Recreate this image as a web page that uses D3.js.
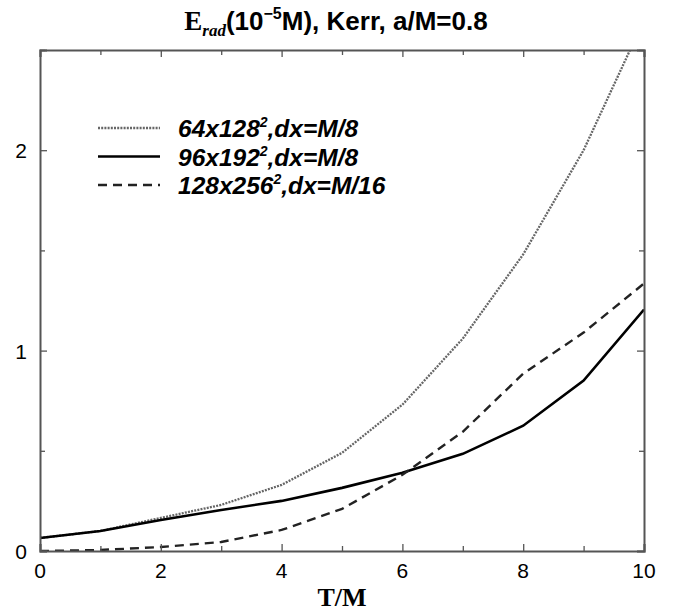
<!DOCTYPE html>
<html>
<head>
<meta charset="utf-8">
<script src="https://cdn.jsdelivr.net/npm/d3@7"></script>
<style>
  body { margin: 0; background: #fff; }
  svg { display: block; }
</style>
</head>
<body>
<script>
// T/M sample points and E_rad values (units of 1e-5 M)
const times = [0, 1, 2, 3, 4, 5, 6, 7, 8, 9, 10];
const coarse = [0.065, 0.1, 0.165, 0.23, 0.33, 0.49, 0.73, 1.06, 1.48, 2.0, 2.65];
const medium = [0.065, 0.1, 0.155, 0.205, 0.25, 0.315, 0.39, 0.485, 0.625, 0.85, 1.205];
const fine = [0.0, 0.005, 0.02, 0.045, 0.105, 0.21, 0.38, 0.595, 0.885, 1.09, 1.335];
const xTicks = [0, 2, 4, 6, 8, 10];
const yTicks = [0, 1, 2];

const width = 679, height = 612;
const margin = {top: 50, right: 35, bottom: 61, left: 40};

const svg = d3.select("body").append("svg")
    .attr("width", width)
    .attr("height", height);

const x = d3.scaleLinear().domain([0, 10]).range([margin.left, width - margin.right]);
const y = d3.scaleLinear().domain([0, 2.5]).range([height - margin.bottom, margin.top]);

const series = [
  {name: "64x128", sup: "2", tail: ",dx=M/8", values: coarse, stroke: "#666", width: 2.3, dash: "2,1.2"},
  {name: "96x192", sup: "2", tail: ",dx=M/8", values: medium, stroke: "#000", width: 2.6, dash: null},
  {name: "128x256", sup: "2", tail: ",dx=M/16", values: fine, stroke: "#222", width: 2.4, dash: "9,6"}
];

svg.append("clipPath").attr("id", "clip")
  .append("rect")
    .attr("x", margin.left).attr("y", margin.top)
    .attr("width", x(10) - x(0)).attr("height", y(0) - y(2.5));

const line = d3.line()
    .x((d, i) => x(times[i]))
    .y(d => y(d));

svg.append("g").attr("clip-path", "url(#clip)")
  .selectAll("path")
  .data(series)
  .join("path")
    .attr("fill", "none")
    .attr("stroke", d => d.stroke)
    .attr("stroke-width", d => d.width)
    .attr("stroke-dasharray", d => d.dash)
    .attr("d", d => line(d.values));

// axes frame with inward ticks on all four sides
const axisColor = "#555";
const tickFont = "Liberation Sans, Arial, sans-serif";

const xAxis = d3.axisBottom(x).tickValues(d3.range(0, 11, 1)).tickSize(-7).tickFormat("");
const xAxisTop = d3.axisTop(x).tickValues(d3.range(0, 11, 1)).tickSize(-7).tickFormat("");
const yAxis = d3.axisLeft(y).tickValues(d3.range(0, 2.51, 0.5)).tickSize(-7).tickFormat("");
const yAxisRight = d3.axisRight(y).tickValues(d3.range(0, 2.51, 0.5)).tickSize(-7).tickFormat("");

const gx = svg.append("g").attr("transform", `translate(0,${y(0)})`).call(xAxis);
const gxt = svg.append("g").attr("transform", `translate(0,${y(2.5)})`).call(xAxisTop);
const gy = svg.append("g").attr("transform", `translate(${x(0)},0)`).call(yAxis);
const gyr = svg.append("g").attr("transform", `translate(${x(10)},0)`).call(yAxisRight);

[gx, gxt, gy, gyr].forEach(g => {
  g.select(".domain").attr("stroke", axisColor).attr("stroke-width", 2);
  g.selectAll(".tick line").attr("stroke", axisColor).attr("stroke-width", 1.3);
});
// minor ticks shorter
[gx, gxt].forEach(g => g.selectAll(".tick line")
  .attr("y2", function(d) { return (d % 2 === 0 ? 7 : 5) * Math.sign(+d3.select(this).attr("y2")); }));
[gy, gyr].forEach(g => g.selectAll(".tick line")
  .attr("x2", function(d) { return (Number.isInteger(d) ? 7 : 5) * Math.sign(+d3.select(this).attr("x2")); }));

// tick labels
svg.append("g").selectAll("text")
  .data(xTicks)
  .join("text")
    .attr("x", d => x(d))
    .attr("y", y(0) + 27)
    .attr("text-anchor", "middle")
    .attr("font-family", tickFont)
    .attr("font-size", 21)
    .text(d => d);

svg.append("g").selectAll("text")
  .data(yTicks)
  .join("text")
    .attr("x", x(0) - 13)
    .attr("y", d => y(d) + 8)
    .attr("text-anchor", "end")
    .attr("font-family", tickFont)
    .attr("font-size", 21)
    .text(d => d);

// x axis title
svg.append("text")
    .attr("x", x(5))
    .attr("y", 606)
    .attr("text-anchor", "middle")
    .attr("font-family", "Liberation Serif, Times New Roman, serif")
    .attr("font-weight", "bold")
    .attr("font-size", 26)
    .text("T/M");

// chart title
const title = svg.append("text")
    .attr("x", 336)
    .attr("y", 30)
    .attr("text-anchor", "middle")
    .attr("font-family", "Liberation Sans, Arial, sans-serif")
    .attr("font-weight", "bold")
    .attr("font-size", 26);
title.append("tspan")
    .attr("font-family", "Liberation Serif, Times New Roman, serif")
    .attr("font-size", 27)
    .text("E");
title.append("tspan")
    .attr("font-family", "Liberation Serif, Times New Roman, serif")
    .attr("font-style", "italic")
    .attr("font-size", 17)
    .attr("dy", 6)
    .text("rad");
title.append("tspan").attr("dy", -6).text("(10");
title.append("tspan").attr("font-size", 16).attr("dy", -11).text("−5");
title.append("tspan").attr("dy", 11).text("M), Kerr, a/M=0.8");

// legend
const legend = svg.append("g")
  .selectAll("g")
  .data(series)
  .join("g")
    .attr("transform", (d, i) => `translate(98,${128 + i * 28.5})`);

legend.append("line")
    .attr("x1", 0).attr("x2", 62)
    .attr("stroke", d => d.stroke)
    .attr("stroke-width", d => d.width)
    .attr("stroke-dasharray", d => d.dash);

const lt = legend.append("text")
    .attr("x", 80)
    .attr("y", 9)
    .attr("font-family", "Liberation Sans, Arial, sans-serif")
    .attr("font-weight", "bold")
    .attr("font-style", "italic")
    .attr("font-size", 24.5);
lt.append("tspan").text(d => d.name);
lt.append("tspan").attr("font-size", 14).attr("dy", -10).text(d => d.sup);
lt.append("tspan").attr("dy", 10).text(d => d.tail);
</script>
</body>
</html>
